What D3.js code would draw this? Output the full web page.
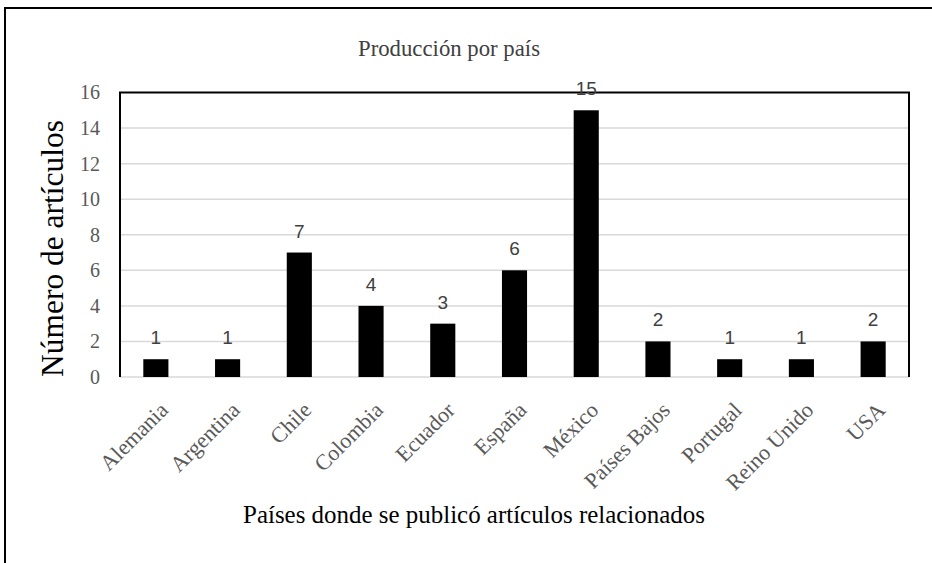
<!DOCTYPE html>
<html><head><meta charset="utf-8">
<script src="https://cdn.jsdelivr.net/npm/d3@7"></script>
<style>body{margin:0;background:#fff}svg{display:block}
.serif{font-family:"Liberation Serif","Times New Roman",serif}
.sans{font-family:"Liberation Sans",Arial,sans-serif}</style>
</head><body>
<svg id="c" width="932" height="563"></svg>
<script>
const categories = ["Alemania","Argentina","Chile","Colombia","Ecuador","España","México","Países Bajos","Portugal","Reino Unido","USA"];
const values = [1,1,7,4,3,6,15,2,1,1,2];
const yTicks = [0,2,4,6,8,10,12,14,16];
const title = "Producción por país";
const xTitle = "Países donde se publicó artículos relacionados";
const yTitle = "Número de artículos";

const svg = d3.select("#c");
const m = {left:120, right:909, top:92.5, bottom:377};

svg.append("rect").attr("x",5).attr("y",8).attr("width",940).attr("height",600)
  .attr("fill","#fff").attr("stroke","#000").attr("stroke-width",2);

const x = d3.scaleBand().domain(categories).range([m.left,m.right]).paddingInner(0.65).paddingOuter(0.325);
const y = d3.scaleLinear().domain([0,16]).range([m.bottom,m.top]);

// grid
svg.append("g").selectAll("line").data(yTicks.filter(t=>t>0&&t<16)).join("line")
  .attr("x1",m.left).attr("x2",m.right).attr("y1",d=>y(d)).attr("y2",d=>y(d))
  .attr("stroke","#d9d9d9").attr("stroke-width",1.5);

// y axis labels
const ya = svg.append("g").attr("transform",`translate(${m.left-20},0)`)
  .call(d3.axisLeft(y).tickValues(yTicks).tickSize(0).tickPadding(0));
ya.attr("font-family",null).attr("font-size",null);
ya.select(".domain").remove();
ya.selectAll("text").attr("class","serif").style("font-size","20px").attr("fill","#595959");

// x axis line (gray)
svg.append("line").attr("x1",m.left).attr("x2",m.right).attr("y1",y(0)).attr("y2",y(0))
  .attr("stroke","#d9d9d9").attr("stroke-width",1.5);

// bars
svg.append("g").selectAll("rect").data(values).join("rect")
  .attr("x",(d,i)=>x(categories[i])).attr("width",x.bandwidth())
  .attr("y",d=>y(d)).attr("height",d=>y(0)-y(d)).attr("fill","#000");

// plot frame: left, top, right black
svg.append("path")
  .attr("d",`M${m.left},${m.bottom}V${m.top}H${m.right}V${m.bottom}`)
  .attr("fill","none").attr("stroke","#000").attr("stroke-width",2);

// value labels
svg.append("g").selectAll("text").data(values).join("text")
  .attr("class","sans")
  .attr("x",(d,i)=>x(categories[i])+x.bandwidth()/2).attr("y",d=>y(d)-15)
  .attr("text-anchor","middle").style("font-size","19px").attr("fill","#404040")
  .text(d=>d);

// x category labels
const xa = svg.append("g").attr("transform",`translate(0,${y(0)})`)
  .call(d3.axisBottom(x).tickSize(0).tickPadding(0));
xa.attr("font-family",null).attr("font-size",null);
xa.select(".domain").remove();
xa.selectAll("text").attr("class","serif").style("font-size","22px").attr("fill","#595959")
  .attr("text-anchor","end").attr("dy","0.35em").attr("y",0)
  .attr("transform","translate(8,29) rotate(-45)");

function fit(sel, w){
  const n = sel.node(); let fs = parseFloat(sel.style("font-size"));
  const L = n.getComputedTextLength(); sel.style("font-size", (fs*w/L).toFixed(2)+"px");
}
// titles
const t1 = svg.append("text").attr("class","serif").attr("x",449).attr("y",56).attr("text-anchor","middle")
  .style("font-size","22px").attr("fill","#404040").text(title);
fit(t1,182);
const t2 = svg.append("text").attr("class","serif").attr("x",474).attr("y",523).attr("text-anchor","middle")
  .style("font-size","24px").attr("fill","#000").text(xTitle);
fit(t2,462);
const t3 = svg.append("text").attr("class","serif").attr("transform","translate(63,248.5) rotate(-90)").attr("text-anchor","middle")
  .style("font-size","26px").attr("fill","#000").text(yTitle);
fit(t3,257);
</script>
</body></html>
